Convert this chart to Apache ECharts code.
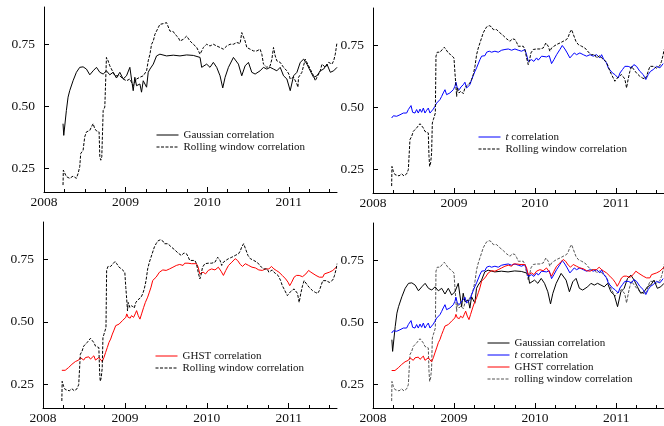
<!DOCTYPE html>
<html>
<head>
<meta charset="utf-8">
<script src="https://cdn.jsdelivr.net/npm/echarts@6/dist/echarts.min.js"></script>
<style>
  html, body { margin: 0; padding: 0; background: #fff; }
  #chart { width: 664px; height: 426px; }
</style>
</head>
<body>
<div id="chart"></div>
<script>
// [decimal year, correlation]
var gaussCorr = [
  [2008.233, 0.43], [2008.242, 0.383], [2008.274, 0.483], [2008.295, 0.537], [2008.315, 0.563], [2008.356, 0.603],
  [2008.397, 0.637], [2008.438, 0.657], [2008.479, 0.659], [2008.520, 0.65], [2008.561, 0.627], [2008.602, 0.643],
  [2008.643, 0.657], [2008.684, 0.637], [2008.725, 0.63], [2008.765, 0.643], [2008.806, 0.627], [2008.847, 0.637],
  [2008.888, 0.614], [2008.929, 0.637], [2008.970, 0.61], [2009.011, 0.623], [2009.052, 0.657], [2009.072, 0.61],
  [2009.093, 0.563], [2009.113, 0.617], [2009.134, 0.583], [2009.175, 0.59], [2009.195, 0.557], [2009.216, 0.603],
  [2009.257, 0.577], [2009.277, 0.637], [2009.298, 0.65], [2009.339, 0.67], [2009.379, 0.703], [2009.420, 0.71],
  [2009.502, 0.703], [2009.584, 0.706], [2009.666, 0.703], [2009.748, 0.707], [2009.830, 0.705], [2009.912, 0.697],
  [2009.932, 0.657], [2009.953, 0.65], [2009.993, 0.67], [2010.034, 0.657], [2010.075, 0.677], [2010.116, 0.657],
  [2010.157, 0.623], [2010.190, 0.574], [2010.219, 0.617], [2010.260, 0.657], [2010.321, 0.697], [2010.341, 0.703],
  [2010.382, 0.67], [2010.423, 0.623], [2010.464, 0.663], [2010.505, 0.677], [2010.546, 0.637], [2010.587, 0.63],
  [2010.648, 0.643], [2010.689, 0.657], [2010.730, 0.65], [2010.771, 0.657], [2010.812, 0.65], [2010.853, 0.643],
  [2010.894, 0.657], [2010.935, 0.623], [2010.976, 0.61], [2011.017, 0.563], [2011.058, 0.623], [2011.099, 0.637],
  [2011.140, 0.677], [2011.181, 0.69], [2011.222, 0.67], [2011.262, 0.643], [2011.303, 0.617], [2011.344, 0.623],
  [2011.385, 0.643], [2011.426, 0.65], [2011.467, 0.67], [2011.508, 0.637], [2011.549, 0.643], [2011.590, 0.657]
];

var tCorr = [
  [2008.230, 0.457], [2008.251, 0.466], [2008.271, 0.461], [2008.292, 0.464], [2008.333, 0.470], [2008.353, 0.477],
  [2008.374, 0.477], [2008.395, 0.484], [2008.415, 0.477], [2008.436, 0.491], [2008.456, 0.497], [2008.469, 0.507],
  [2008.489, 0.480], [2008.518, 0.477], [2008.538, 0.491], [2008.559, 0.477], [2008.580, 0.493], [2008.600, 0.480],
  [2008.621, 0.497], [2008.641, 0.477], [2008.662, 0.488], [2008.682, 0.497], [2008.703, 0.477], [2008.723, 0.477],
  [2008.744, 0.493], [2008.764, 0.504], [2008.785, 0.517], [2008.806, 0.524], [2008.826, 0.531], [2008.847, 0.544],
  [2008.867, 0.558], [2008.888, 0.571], [2008.908, 0.551], [2008.929, 0.544], [2008.949, 0.558], [2008.970, 0.565],
  [2008.991, 0.571], [2009.011, 0.585], [2009.023, 0.601], [2009.040, 0.578], [2009.065, 0.571], [2009.085, 0.582],
  [2009.114, 0.591], [2009.134, 0.601], [2009.155, 0.578], [2009.176, 0.574], [2009.196, 0.591], [2009.217, 0.612],
  [2009.237, 0.628], [2009.258, 0.645], [2009.278, 0.659], [2009.299, 0.665], [2009.319, 0.692], [2009.340, 0.706],
  [2009.360, 0.703], [2009.381, 0.708], [2009.402, 0.722], [2009.434, 0.726], [2009.463, 0.722], [2009.504, 0.726],
  [2009.545, 0.722], [2009.587, 0.730], [2009.628, 0.733], [2009.669, 0.735], [2009.710, 0.730], [2009.751, 0.735],
  [2009.792, 0.730], [2009.833, 0.726], [2009.874, 0.733], [2009.895, 0.712], [2009.915, 0.685], [2009.936, 0.679],
  [2009.956, 0.692], [2009.985, 0.685], [2010.018, 0.699], [2010.039, 0.690], [2010.059, 0.692], [2010.080, 0.706],
  [2010.100, 0.708], [2010.141, 0.703], [2010.174, 0.708], [2010.203, 0.676], [2010.232, 0.692], [2010.265, 0.712],
  [2010.306, 0.733], [2010.335, 0.749], [2010.367, 0.735], [2010.396, 0.719], [2010.429, 0.699], [2010.450, 0.706],
  [2010.483, 0.719], [2010.511, 0.712], [2010.552, 0.719], [2010.594, 0.712], [2010.635, 0.706], [2010.678, 0.712],
  [2010.717, 0.706], [2010.758, 0.712], [2010.799, 0.699], [2010.820, 0.712], [2010.848, 0.692], [2010.881, 0.679],
  [2010.902, 0.659], [2010.922, 0.652], [2010.955, 0.638], [2010.984, 0.632], [2011.025, 0.618], [2011.046, 0.638],
  [2011.078, 0.652], [2011.107, 0.665], [2011.148, 0.665], [2011.189, 0.659], [2011.218, 0.672], [2011.251, 0.665],
  [2011.292, 0.645], [2011.333, 0.632], [2011.366, 0.612], [2011.395, 0.632], [2011.424, 0.645], [2011.457, 0.652],
  [2011.498, 0.665], [2011.539, 0.659], [2011.580, 0.676]
];

var ghstCorr = [
  [2008.230, 0.306], [2008.251, 0.310], [2008.271, 0.306], [2008.292, 0.314], [2008.312, 0.317], [2008.333, 0.324],
  [2008.353, 0.330], [2008.374, 0.333], [2008.395, 0.341], [2008.415, 0.337], [2008.436, 0.347], [2008.456, 0.357],
  [2008.477, 0.351], [2008.497, 0.347], [2008.518, 0.357], [2008.538, 0.351], [2008.559, 0.360], [2008.580, 0.351],
  [2008.600, 0.357], [2008.621, 0.364], [2008.641, 0.347], [2008.662, 0.344], [2008.682, 0.357], [2008.703, 0.351],
  [2008.723, 0.341], [2008.744, 0.357], [2008.764, 0.377], [2008.785, 0.397], [2008.806, 0.418], [2008.826, 0.431],
  [2008.847, 0.451], [2008.867, 0.467], [2008.888, 0.485], [2008.908, 0.485], [2008.929, 0.491], [2008.949, 0.498],
  [2008.970, 0.505], [2008.991, 0.505], [2009.011, 0.518], [2009.023, 0.532], [2009.040, 0.518], [2009.065, 0.515],
  [2009.081, 0.525], [2009.106, 0.518], [2009.126, 0.532], [2009.143, 0.545], [2009.163, 0.525], [2009.184, 0.511],
  [2009.204, 0.532], [2009.229, 0.558], [2009.250, 0.578], [2009.278, 0.599], [2009.299, 0.619], [2009.319, 0.639],
  [2009.340, 0.666], [2009.360, 0.672], [2009.381, 0.679], [2009.402, 0.686], [2009.422, 0.699], [2009.443, 0.706],
  [2009.463, 0.708], [2009.504, 0.706], [2009.545, 0.712], [2009.587, 0.719], [2009.628, 0.726], [2009.669, 0.730],
  [2009.710, 0.726], [2009.730, 0.735], [2009.751, 0.733], [2009.771, 0.735], [2009.813, 0.733], [2009.833, 0.726],
  [2009.874, 0.733], [2009.895, 0.719], [2009.915, 0.692], [2009.936, 0.686], [2009.956, 0.699], [2009.985, 0.692],
  [2010.018, 0.706], [2010.039, 0.699], [2010.059, 0.712], [2010.100, 0.708], [2010.141, 0.719], [2010.174, 0.703],
  [2010.203, 0.686], [2010.232, 0.706], [2010.265, 0.726], [2010.306, 0.739], [2010.347, 0.753], [2010.376, 0.746],
  [2010.409, 0.730], [2010.437, 0.722], [2010.470, 0.733], [2010.511, 0.726], [2010.552, 0.719], [2010.594, 0.716],
  [2010.635, 0.708], [2010.678, 0.706], [2010.717, 0.712], [2010.758, 0.712], [2010.790, 0.722], [2010.820, 0.712],
  [2010.848, 0.706], [2010.881, 0.699], [2010.922, 0.686], [2010.963, 0.672], [2010.992, 0.659], [2011.013, 0.645],
  [2011.037, 0.659], [2011.066, 0.679], [2011.095, 0.686], [2011.128, 0.686], [2011.169, 0.681], [2011.210, 0.692],
  [2011.243, 0.706], [2011.271, 0.699], [2011.292, 0.692], [2011.333, 0.686], [2011.374, 0.679], [2011.416, 0.679],
  [2011.436, 0.692], [2011.457, 0.699], [2011.498, 0.699], [2011.539, 0.706], [2011.580, 0.719], [2011.590, 0.722]
];

// rolling window estimate shown in the top-left panel
var rollCorr1 = [
  [2008.233, 0.183], [2008.237, 0.243], [2008.274, 0.217], [2008.315, 0.21], [2008.356, 0.219], [2008.397, 0.21],
  [2008.418, 0.23], [2008.438, 0.257], [2008.450, 0.31], [2008.479, 0.323], [2008.499, 0.377], [2008.520, 0.397],
  [2008.561, 0.403], [2008.581, 0.417], [2008.602, 0.43], [2008.622, 0.41], [2008.643, 0.401], [2008.675, 0.397],
  [2008.684, 0.297], [2008.696, 0.283], [2008.708, 0.297], [2008.725, 0.483], [2008.745, 0.497], [2008.757, 0.49],
  [2008.765, 0.697], [2008.786, 0.683], [2008.806, 0.663], [2008.847, 0.637], [2008.868, 0.623], [2008.888, 0.617],
  [2008.929, 0.623], [2008.970, 0.61], [2009.011, 0.603], [2009.052, 0.61], [2009.093, 0.583], [2009.134, 0.61],
  [2009.175, 0.617], [2009.216, 0.623], [2009.257, 0.643], [2009.277, 0.683], [2009.298, 0.71], [2009.318, 0.75],
  [2009.339, 0.763], [2009.359, 0.79], [2009.379, 0.797], [2009.400, 0.817], [2009.420, 0.83], [2009.461, 0.833],
  [2009.502, 0.837], [2009.523, 0.83], [2009.543, 0.803], [2009.584, 0.801], [2009.605, 0.79], [2009.646, 0.777],
  [2009.666, 0.763], [2009.707, 0.77], [2009.748, 0.783], [2009.789, 0.763], [2009.830, 0.75], [2009.871, 0.737],
  [2009.912, 0.71], [2009.932, 0.723], [2009.953, 0.737], [2009.993, 0.75], [2010.034, 0.743], [2010.075, 0.75],
  [2010.116, 0.743], [2010.157, 0.737], [2010.198, 0.73], [2010.239, 0.743], [2010.280, 0.75], [2010.321, 0.75],
  [2010.362, 0.757], [2010.403, 0.753], [2010.423, 0.797], [2010.444, 0.79], [2010.464, 0.763], [2010.485, 0.737],
  [2010.526, 0.73], [2010.567, 0.723], [2010.607, 0.723], [2010.648, 0.73], [2010.669, 0.71], [2010.689, 0.67],
  [2010.730, 0.657], [2010.771, 0.663], [2010.792, 0.69], [2010.812, 0.737], [2010.833, 0.703], [2010.853, 0.683],
  [2010.894, 0.677], [2010.935, 0.657], [2010.976, 0.643], [2011.000, 0.63], [2011.017, 0.61], [2011.058, 0.617],
  [2011.099, 0.59], [2011.111, 0.577], [2011.119, 0.617], [2011.160, 0.637], [2011.201, 0.69], [2011.222, 0.683],
  [2011.262, 0.65], [2011.303, 0.623], [2011.324, 0.603], [2011.344, 0.617], [2011.385, 0.643], [2011.406, 0.67],
  [2011.447, 0.657], [2011.488, 0.677], [2011.528, 0.67], [2011.549, 0.683], [2011.569, 0.71], [2011.590, 0.757]
];

// rolling window estimate shown in the other three panels
var rollCorr = [
  [2008.230, 0.183], [2008.234, 0.262], [2008.251, 0.242], [2008.271, 0.229], [2008.292, 0.235], [2008.321, 0.224],
  [2008.353, 0.232], [2008.382, 0.224], [2008.415, 0.232], [2008.436, 0.249], [2008.456, 0.370], [2008.477, 0.383],
  [2008.497, 0.403], [2008.518, 0.410], [2008.538, 0.417], [2008.559, 0.423], [2008.580, 0.434], [2008.600, 0.426],
  [2008.621, 0.417], [2008.641, 0.403], [2008.662, 0.407], [2008.682, 0.397], [2008.691, 0.302], [2008.699, 0.262],
  [2008.711, 0.276], [2008.723, 0.316], [2008.732, 0.437], [2008.744, 0.450], [2008.756, 0.444], [2008.769, 0.477],
  [2008.777, 0.706], [2008.793, 0.722], [2008.826, 0.722], [2008.855, 0.733], [2008.880, 0.742], [2008.900, 0.733],
  [2008.929, 0.719], [2008.958, 0.712], [2008.982, 0.708], [2008.999, 0.699], [2009.011, 0.638], [2009.019, 0.605],
  [2009.032, 0.544], [2009.040, 0.578], [2009.060, 0.558], [2009.085, 0.565], [2009.114, 0.555], [2009.134, 0.578],
  [2009.155, 0.587], [2009.176, 0.591], [2009.196, 0.598], [2009.217, 0.612], [2009.237, 0.632], [2009.258, 0.665],
  [2009.278, 0.712], [2009.299, 0.739], [2009.319, 0.759], [2009.340, 0.780], [2009.360, 0.800], [2009.381, 0.813],
  [2009.402, 0.824], [2009.434, 0.829], [2009.463, 0.824], [2009.484, 0.813], [2009.504, 0.806], [2009.525, 0.813],
  [2009.545, 0.806], [2009.566, 0.800], [2009.607, 0.789], [2009.628, 0.793], [2009.648, 0.776], [2009.689, 0.766],
  [2009.722, 0.776], [2009.751, 0.773], [2009.771, 0.762], [2009.792, 0.746], [2009.813, 0.753], [2009.854, 0.746],
  [2009.874, 0.733], [2009.895, 0.699], [2009.915, 0.672], [2009.928, 0.685], [2009.948, 0.719], [2009.977, 0.733],
  [2009.998, 0.726], [2010.018, 0.735], [2010.039, 0.733], [2010.059, 0.735], [2010.100, 0.739], [2010.133, 0.759],
  [2010.162, 0.746], [2010.182, 0.726], [2010.203, 0.739], [2010.232, 0.746], [2010.265, 0.753], [2010.306, 0.759],
  [2010.347, 0.766], [2010.388, 0.773], [2010.409, 0.784], [2010.429, 0.802], [2010.450, 0.813], [2010.470, 0.806],
  [2010.503, 0.766], [2010.532, 0.753], [2010.573, 0.746], [2010.614, 0.739], [2010.635, 0.733], [2010.667, 0.719],
  [2010.696, 0.712], [2010.737, 0.712], [2010.758, 0.699], [2010.799, 0.708], [2010.820, 0.699], [2010.840, 0.706],
  [2010.873, 0.685], [2010.902, 0.665], [2010.922, 0.645], [2010.943, 0.632], [2010.963, 0.625], [2010.984, 0.605],
  [2011.005, 0.598], [2011.025, 0.622], [2011.046, 0.614], [2011.066, 0.632], [2011.087, 0.638], [2011.107, 0.614],
  [2011.128, 0.578], [2011.136, 0.571], [2011.148, 0.614], [2011.169, 0.645], [2011.189, 0.665], [2011.218, 0.652],
  [2011.251, 0.638], [2011.292, 0.625], [2011.325, 0.618], [2011.354, 0.614], [2011.374, 0.625], [2011.395, 0.632],
  [2011.416, 0.665], [2011.436, 0.672], [2011.457, 0.665], [2011.477, 0.672], [2011.498, 0.658], [2011.518, 0.665],
  [2011.539, 0.668], [2011.559, 0.685], [2011.580, 0.712], [2011.590, 0.733]
];

var yearTicks = [2008, 2009, 2010, 2011];
var quarterTicks = [2008.25, 2008.5, 2008.75, 2009.25, 2009.5, 2009.75, 2010.25, 2010.5, 2010.75, 2011.25, 2011.5];
var yTicks = [0.25, 0.5, 0.75];

var FONT = '"Liberation Serif", "DejaVu Serif", serif';

var grids = [
  { left: 44, top: 7, width: 293, height: 185 },
  { left: 373, top: 8, width: 291, height: 185 },
  { left: 43, top: 222, width: 294, height: 186 },
  { left: 373, top: 223, width: 291, height: 185 }
];

var xAxes = [], yAxes = [];
grids.forEach(function (g, i) {
  xAxes.push({
    type: 'value', gridIndex: i, min: 2008, max: 2011.59, position: 'bottom',
    axisLine: { onZero: false, lineStyle: { color: '#000', width: 1 } },
    axisTick: { inside: true, length: 5, customValues: yearTicks, lineStyle: { color: '#000' } },
    axisLabel: {
      customValues: yearTicks, margin: 3, color: '#111', fontFamily: FONT, fontSize: 13.5,
      formatter: function (v) { return String(Math.round(v)); }
    },
    splitLine: { show: false }
  });
  // quarter ticks
  xAxes.push({
    type: 'value', gridIndex: i, min: 2008, max: 2011.59, position: 'bottom',
    axisLine: { show: false },
    axisTick: { inside: true, length: 3, customValues: quarterTicks, lineStyle: { color: '#000' } },
    axisLabel: { show: false },
    splitLine: { show: false }
  });
  yAxes.push({
    type: 'value', gridIndex: i, min: 0.155, max: 0.9,
    axisLine: { show: true, onZero: false, lineStyle: { color: '#000', width: 1 } },
    axisTick: { show: true, inside: true, length: 5, customValues: yTicks, lineStyle: { color: '#000' } },
    axisLabel: {
      customValues: yTicks, margin: 9, color: '#111', fontFamily: FONT, fontSize: 13.5,
      formatter: function (v) { return v.toFixed(2); }
    },
    splitLine: { show: false }
  });
});

function line(name, data, panel, color, dashed) {
  return {
    name: name, type: 'line', data: data,
    xAxisIndex: panel * 2, yAxisIndex: panel,
    symbol: 'none', showSymbol: false, silent: true,
    lineStyle: { color: color, width: 1, type: dashed ? [3, 1.5] : 'solid' },
    itemStyle: { color: color }
  };
}

var series = [
  line('Gaussian correlation', gaussCorr, 0, '#000', false),
  line('Rolling window correlation', rollCorr1, 0, '#000', true),
  line('t correlation', tCorr, 1, '#0000ff', false),
  line('Rolling window correlation', rollCorr, 1, '#000', true),
  line('GHST correlation', ghstCorr, 2, '#ff0000', false),
  line('Rolling window correlation', rollCorr, 2, '#000', true),
  line('rolling window correlation', rollCorr, 3, '#555', true),
  line('Gaussian correlation', gaussCorr, 3, '#000', false),
  line('t correlation', tCorr, 3, '#0000ff', false),
  line('GHST correlation', ghstCorr, 3, '#ff0000', false)
];

function legend(left, top, names) {
  return {
    left: left, top: top, orient: 'vertical', data: names,
    itemWidth: 22, itemHeight: 12, itemGap: 0, padding: 0,
    selectedMode: false,
    // hide the circle that line series put in the middle of the legend line
    itemStyle: { color: 'transparent', borderColor: 'transparent', borderWidth: 0, opacity: 0 },
    lineStyle: { width: 1 },
    textStyle: {
      fontFamily: FONT, fontSize: 11, color: '#111', lineHeight: 12,
      rich: { it: { fontFamily: FONT, fontSize: 11, fontStyle: 'italic', color: '#111' } }
    },
    formatter: function (n) { return n === 't correlation' ? '{it|t} correlation' : n; }
  };
}

var chart = echarts.init(document.getElementById('chart'), null, { renderer: 'canvas' });
chart.setOption({
  animation: false,
  backgroundColor: '#fff',
  grid: grids,
  xAxis: xAxes,
  yAxis: yAxes,
  legend: [
    legend(156, 129, ['Gaussian correlation', 'Rolling window correlation']),
    legend(478, 131, ['t correlation', 'Rolling window correlation']),
    legend(155, 350, ['GHST correlation', 'Rolling window correlation']),
    legend(487, 337, ['Gaussian correlation', 't correlation', 'GHST correlation', 'rolling window correlation'])
  ],
  series: series
});
</script>
</body>
</html>
